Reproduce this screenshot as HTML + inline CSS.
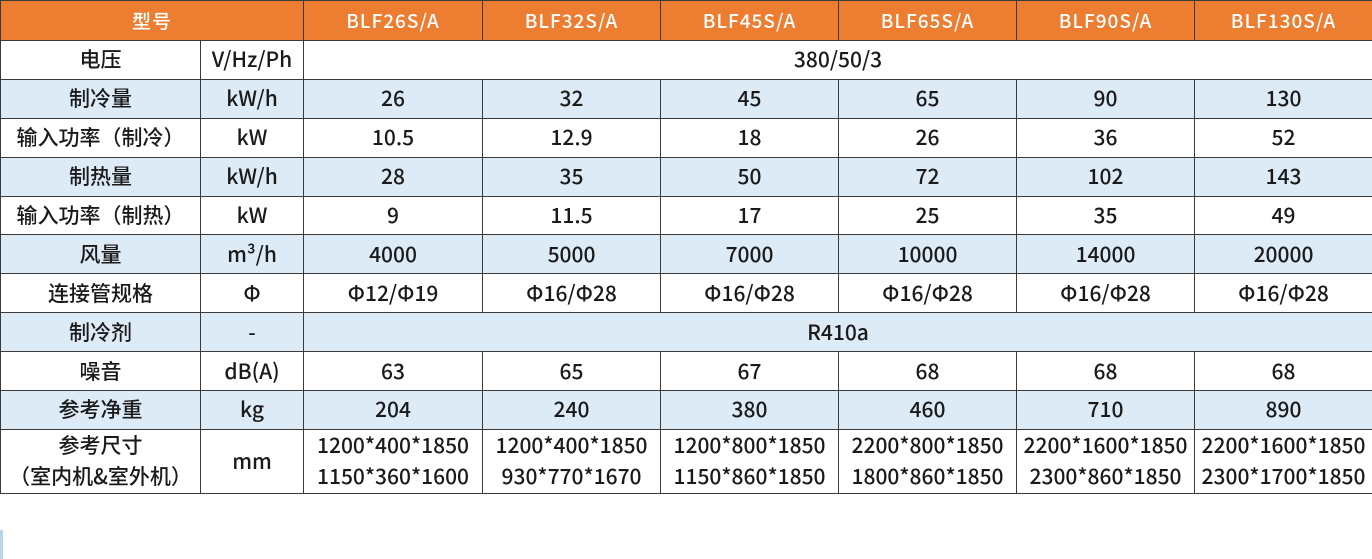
<!DOCTYPE html>
<html><head><meta charset="utf-8"><style>
body{margin:0;width:1372px;height:559px;background:#fff;position:relative;overflow:hidden;font-family:"Noto Sans CJK SC","Liberation Sans",sans-serif;}
table{position:absolute;left:0;top:0;border-collapse:collapse;table-layout:fixed;width:1372px;}
td{border:1.5px solid #3a3a3a;text-align:center;vertical-align:middle;font-size:21px;font-weight:500;color:#1a1a1a;padding:0;line-height:1;white-space:nowrap;}
tr{height:38.9px;}
tr.h{height:40px;}
tr.h td{background:#ED7D31;color:#fff;font-size:19px;letter-spacing:1px;}
tr.b td{background:#DDEBF7;}
tr.l{height:64px;}
tr.l td{line-height:31px;}
.mark{position:absolute;left:0;top:530px;width:3px;height:29px;background:#b8d3ec;}
</style></head><body>
<table>
<colgroup><col style="width:200px"><col style="width:103px"><col style="width:179px"><col style="width:178px"><col style="width:178px"><col style="width:178px"><col style="width:178px"><col style="width:178px"></colgroup>
<tr class="h"><td colspan="2">型号</td><td>BLF26S/A</td><td>BLF32S/A</td><td>BLF45S/A</td><td>BLF65S/A</td><td>BLF90S/A</td><td>BLF130S/A</td></tr>
<tr><td>电压</td><td>V/Hz/Ph</td><td colspan="6">380/50/3</td></tr>
<tr class="b"><td>制冷量</td><td>kW/h</td><td>26</td><td>32</td><td>45</td><td>65</td><td>90</td><td>130</td></tr>
<tr><td>输入功率（制冷）</td><td>kW</td><td>10.5</td><td>12.9</td><td>18</td><td>26</td><td>36</td><td>52</td></tr>
<tr class="b"><td>制热量</td><td>kW/h</td><td>28</td><td>35</td><td>50</td><td>72</td><td>102</td><td>143</td></tr>
<tr><td>输入功率（制热）</td><td>kW</td><td>9</td><td>11.5</td><td>17</td><td>25</td><td>35</td><td>49</td></tr>
<tr class="b"><td>风量</td><td>m³/h</td><td>4000</td><td>5000</td><td>7000</td><td>10000</td><td>14000</td><td>20000</td></tr>
<tr><td>连接管规格</td><td>Φ</td><td>Φ12/Φ19</td><td>Φ16/Φ28</td><td>Φ16/Φ28</td><td>Φ16/Φ28</td><td>Φ16/Φ28</td><td>Φ16/Φ28</td></tr>
<tr class="b"><td>制冷剂</td><td>-</td><td colspan="6">R410a</td></tr>
<tr><td>噪音</td><td>dB(A)</td><td>63</td><td>65</td><td>67</td><td>68</td><td>68</td><td>68</td></tr>
<tr class="b"><td>参考净重</td><td>kg</td><td>204</td><td>240</td><td>380</td><td>460</td><td>710</td><td>890</td></tr>
<tr class="l"><td>参考尺寸<br>（室内机&amp;室外机）</td><td>mm</td><td>1200*400*1850<br>1150*360*1600</td><td>1200*400*1850<br>930*770*1670</td><td>1200*800*1850<br>1150*860*1850</td><td>2200*800*1850<br>1800*860*1850</td><td>2200*1600*1850<br>2300*860*1850</td><td>2200*1600*1850<br>2300*1700*1850</td></tr>
</table>
<div class="mark"></div>
</body></html>
